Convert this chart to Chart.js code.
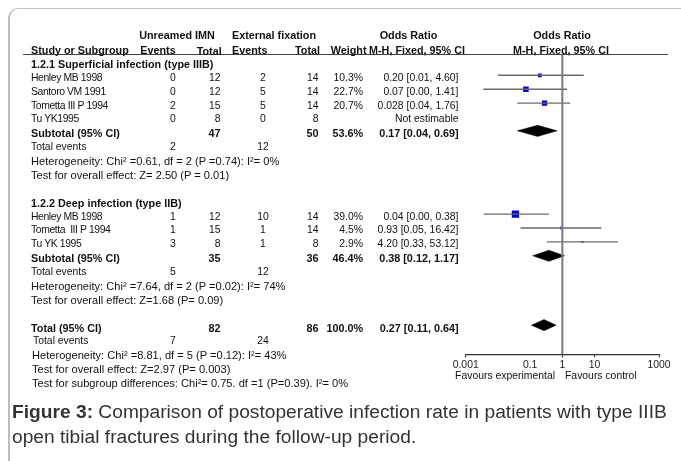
<!DOCTYPE html>
<html><head><meta charset="utf-8">
<script src="https://cdn.jsdelivr.net/npm/chart.js@4.4.1/dist/chart.umd.min.js"></script>
<style>
html,body{margin:0;padding:0;background:#fff;width:681px;height:461px;overflow:hidden;position:relative;font-family:"Liberation Sans",Arial,sans-serif;}
#frame{position:absolute;left:8px;top:8px;width:720px;height:480px;border-top:1px solid #c4c4c4;border-left:2px solid #bdbdbd;border-top-left-radius:10px;}
#c{position:absolute;left:0;top:0;}
.t{position:absolute;font-size:10.4px;line-height:12px;height:12px;white-space:pre;color:#111;}
.b{font-weight:bold;font-size:10.8px;}
.n{letter-spacing:-0.4px;}
.f{font-size:11.1px;}
#rule{position:absolute;left:23px;top:54px;width:645px;height:0;border-top:1.3px solid #444;}
.cap{position:absolute;left:12px;font-size:19.2px;line-height:25px;color:#333;white-space:pre;}
</style></head><body>
<div id="frame"></div>
<canvas id="c" width="681" height="461"></canvas>
<div id="rule"></div>
<div id="txt"></div>
<div class="cap" style="top:399px"><b>Figure 3:</b> Comparison of postoperative infection rate in patients with type IIIB</div>
<div class="cap" style="top:424px">open tibial fractures during the follow-up period.</div>
<script>
// ---------- DATA ----------
const groupTitles = ["1.2.1 Superficial infection (type IIIB)", "1.2.2 Deep infection (type IIB)"];
const studyGroup  = [0, 0, 0, 0, 1, 1, 1];
const studyNames  = ["Henley MB 1998", "Santoro VM 1991", "Tometta III P 1994", "Tu YK1995",
                     "Henley MB 1998", "Tometta  III P 1994", "Tu YK 1995"];
const expEvents   = [0, 0, 2, 0, 1, 1, 3];
const expTotals   = [12, 12, 15, 8, 12, 15, 8];
const ctlEvents   = [2, 5, 5, 0, 10, 1, 1];
const ctlTotals   = [14, 14, 14, 8, 14, 14, 8];
const weights     = [10.3, 22.7, 20.7, null, 39.0, 4.5, 2.9];
const weightLabels= ["10.3%", "22.7%", "20.7%", "", "39.0%", "4.5%", "2.9%"];
const orLabels    = ["0.20 [0.01, 4.60]", "0.07 [0.00, 1.41]", "0.028 [0.04, 1.76]", "Not estimable",
                     "0.04 [0.00, 0.38]", "0.93 [0.05, 16.42]", "4.20 [0.33, 53.12]"];
const orPoints    = [0.20, 0.074, 0.28, null, 0.035, 0.93, 4.20];
const ciLows      = [0.01, 0.0035, 0.04, null, 0.0036, 0.05, 0.33];
const ciHighs     = [4.60, 1.41, 1.76, null, 0.38, 16.42, 53.12];

const subExpTotals   = [47, 35];
const subCtlTotals   = [50, 36];
const subWeights     = ["53.6%", "46.4%"];
const subOrLabels    = ["0.17 [0.04, 0.69]", "0.38 [0.12, 1.17]"];
const subOr          = [0.17, 0.38];
const subLows        = [0.04, 0.12];
const subHighs       = [0.69, 1.17];
const subExpEvents   = [2, 5];
const subCtlEvents   = [12, 12];
const subHet         = ["Heterogeneity: Chi² =0.61, df = 2 (P =0.74): I²= 0%",
                        "Heterogeneity: Chi² =7.64, df = 2 (P =0.02): I²= 74%"];
const subTests       = ["Test for overall effect: Z= 2.50 (P = 0.01)",
                        "Test for overall effect: Z=1.68 (P= 0.09)"];

const totalExp = 82, totalCtl = 86, totalWeight = "100.0%";
const totalOrLabel = "0.27 [0.11, 0.64]";
const totalOr = [0.27], totalLow = [0.11], totalHigh = [0.64];
const totalExpEvents = 7, totalCtlEvents = 24;
const totalHet = "Heterogeneity: Chi² =8.81, df = 5 (P =0.12): I²= 43%";
const totalTest = "Test for overall effect: Z=2.97 (P= 0.003)";
const subgroupTest = "Test for subgroup differences: Chi²= 0.75. df =1 (P=0.39). I²= 0%";

const xTicks = [0.001, 0.1, 1, 10, 1000];
const xTickLabels = ["0.001", "0.1", "1", "10", "1000"];
const favourLabels = ["Favours experimental", "Favours control"];

// ---------- LAYOUT ----------
const FONT = '"Liberation Sans", Arial, sans-serif';
const txt = document.getElementById('txt');
const ROW0 = 50, PITCH = 13.88;
function rowY(r){ return ROW0 + PITCH * r; }
function put(text, x, y, align, cls){
  const d = document.createElement('div');
  d.className = 't' + (cls ? ' ' + cls : '');
  d.textContent = text;
  d.style.top = (y - 6) + 'px';
  if (align === 'right') d.style.right = (681 - x) + 'px';
  else if (align === 'center') { d.style.left = x + 'px'; d.style.transform = 'translateX(-50%)'; }
  else d.style.left = x + 'px';
  txt.appendChild(d);
}
const COL = {name:31, expEv:173, expTot:220.5, ctlEv:263, ctlTot:318.5, weight:363, or:458.5};

// headers
put("Unreamed IMN", 177, 34.5, 'center', 'b');
put("External fixation", 274, 34.5, 'center', 'b');
put("Odds Ratio", 408.5, 34.5, 'center', 'b');
put("Odds Ratio", 562, 34.5, 'center', 'b');
const hy = 49.5;
put("Study or Subgroup", 31, hy, 'left', 'b');
put("Events", 158, hy, 'center', 'b');
put("Total", 221.7, hy + 1.5, 'right', 'b');
put("Events", 249.7, hy, 'center', 'b');
put("Total", 320, hy, 'right', 'b');
put("Weight", 366.5, hy, 'right', 'b');
put("M-H, Fixed, 95% CI", 417, hy, 'center', 'b');
put("M-H, Fixed, 95% CI", 561, hy, 'center', 'b');

// rows
const studyRows = [], subRows = [];
let r = 1;
for (let g = 0; g < groupTitles.length; g++) {
  put(groupTitles[g], COL.name, rowY(r), 'left', 'b'); r++;
  for (let i = 0; i < studyNames.length; i++) {
    if (studyGroup[i] !== g) continue;
    const y = rowY(r);
    put(studyNames[i], COL.name, y, 'left', 'n');
    put(String(expEvents[i]), COL.expEv, y, 'center');
    put(String(expTotals[i]), COL.expTot, y, 'right');
    put(String(ctlEvents[i]), COL.ctlEv, y, 'center');
    put(String(ctlTotals[i]), COL.ctlTot, y, 'right');
    if (weightLabels[i]) put(weightLabels[i], COL.weight, y, 'right');
    put(orLabels[i], COL.or, y, 'right');
    studyRows[i] = r; r++;
  }
  let y = rowY(r);
  put("Subtotal (95% CI)", COL.name, y, 'left', 'b');
  put(String(subExpTotals[g]), COL.expTot, y, 'right', 'b');
  put(String(subCtlTotals[g]), COL.ctlTot, y, 'right', 'b');
  put(subWeights[g], COL.weight, y, 'right', 'b');
  put(subOrLabels[g], COL.or, y, 'right', 'b');
  subRows[g] = r; r++;
  y = rowY(r);
  put("Total events", COL.name, y, 'left');
  put(String(subExpEvents[g]), COL.expEv, y, 'center');
  put(String(subCtlEvents[g]), COL.ctlEv, y, 'center'); r++;
  put(subHet[g], COL.name, rowY(r), 'left', 'f'); r++;
  put(subTests[g], COL.name, rowY(r), 'left', 'f'); r++;
  r++; // blank
}
const totalRow = r;
let y = rowY(r);
put("Total (95% CI)", COL.name, y, 'left', 'b');
put(String(totalExp), COL.expTot, y, 'right', 'b');
put(String(totalCtl), COL.ctlTot, y, 'right', 'b');
put(totalWeight, COL.weight, y, 'right', 'b');
put(totalOrLabel, COL.or, y, 'right', 'b'); r++;
y = rowY(r);
put("Total events", 33, y, 'left');
put(String(totalExpEvents), COL.expEv, y, 'center');
put(String(totalCtlEvents), COL.ctlEv, y, 'center'); r++;
put(totalHet, 32, rowY(r), 'left', 'f'); r++;
put(totalTest, 32, rowY(r), 'left', 'f'); r++;
put(subgroupTest, 32, rowY(r), 'left', 'f');

put(favourLabels[0], 555, 375.5, 'right');
put(favourLabels[1], 565, 375.5, 'left');

// ---------- CHART ----------
const Y_MIN = 0.5, Y_MAX = 22.1, DIA_H = 0.4;
const datasets = [];
datasets.push({data:[{x:1,y:Y_MIN},{x:1,y:Y_MAX}], borderColor:'#7a7a7a', borderWidth:2, pointRadius:0, fill:false});
const sqData = [], sqRad = [];
for (let i = 0; i < studyNames.length; i++) {
  if (orPoints[i] == null) continue;
  const rr = studyRows[i];
  datasets.push({data:[{x:ciLows[i],y:rr},{x:ciHighs[i],y:rr}], borderColor:'#6a6a6a', borderWidth:1.4, pointRadius:0, fill:false});
  sqData.push({x:orPoints[i], y:rr});
  sqRad.push(1.17 * Math.sqrt(weights[i]) / Math.SQRT2);
}
datasets.push({data:sqData, showLine:false, pointStyle:'rect', pointRadius:sqRad, backgroundColor:'#0000c8', borderWidth:0});
function diamond(est, lo, hi, rr){
  return {data:[{x:lo,y:rr},{x:est,y:rr-DIA_H},{x:hi,y:rr},{x:est,y:rr+DIA_H},{x:lo,y:rr}],
    borderColor:'#000', borderWidth:0.5, backgroundColor:'#000', fill:'shape', pointRadius:0, tension:0};
}
for (let g = 0; g < subOr.length; g++) datasets.push(diamond(subOr[g], subLows[g], subHighs[g], subRows[g]));
datasets.push(diamond(totalOr[0], totalLow[0], totalHigh[0], totalRow));

new Chart(document.getElementById('c'), {
  type: 'line',
  data: { datasets },
  options: {
    responsive: false, animation: false,
    layout: { padding: { left: 465.7, right: 22, top: 54.5, bottom: 86.7 } },
    plugins: { legend: {display:false}, tooltip: {enabled:false} },
    events: [],
    scales: {
      x: {
        type: 'logarithmic', min: 0.001, max: 1000,
        afterBuildTicks: s => { s.ticks = xTicks.map(v => ({value: v})); },
        afterFit: s => { s.height = 20; },
        ticks: { autoSkip:false, maxRotation:0, padding:2, color:'#222',
          font:{family:FONT, size:10.4},
          callback: (v) => { const k = xTicks.indexOf(v); return k >= 0 ? xTickLabels[k] : ''; } },
        grid: { drawOnChartArea:false, drawTicks:true, tickLength:3, tickWidth:1.3,
          tickColor: ctx => (ctx.tick && ctx.tick.value === 0.1) ? 'rgba(0,0,0,0)' : '#333' },
        border: { display:true, color:'#333', width:1.3 }
      },
      y: { type:'linear', reverse:true, min:Y_MIN, max:Y_MAX, display:false }
    }
  }
});
</script>
</body></html>
